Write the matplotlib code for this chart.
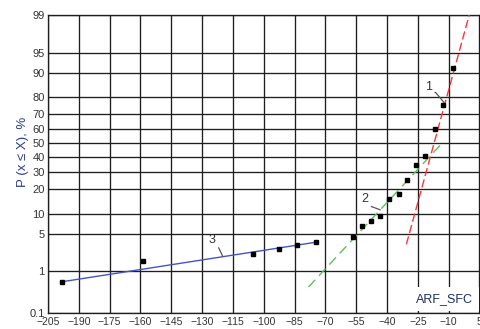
from statistics import NormalDist

import numpy as np
import matplotlib
matplotlib.use("Agg")
import matplotlib.pyplot as plt

plt.rcParams["font.family"] = ["Liberation Sans", "DejaVu Sans"]

# ---------------------------------------------------------------------------
# observations (x, cumulative probability in %) and the three fitted lines
# ---------------------------------------------------------------------------
s3_x = [-198.3, -158.6, -105.3, -92.4, -83.6, -74.6]
s3_p = [0.59, 1.63, 2.24, 2.76, 3.16, 3.6]
s2_x = [-56.8, -52.2, -48.0, -43.3, -38.9, -34.4, -30.3, -25.9, -21.5]
s2_p = [4.4, 6.6, 7.85, 9.25, 15.5, 17.8, 25.3, 34.8, 40.7]
s1_x = [-16.9, -12.8, -8.1]
s1_p = [60.0, 75.3, 91.5]

fit3_x = [-198.3, -74.6]
fit3_p = [0.59, 3.6]
fit2_x = [-78.2, -13.6]
fit2_p = [0.45, 49.3]
fit1_x = [-30.6, 0.0]
fit1_p = [3.3, 99.0]

xticks = [-205, -190, -175, -160, -145, -130, -115, -100, -85, -70, -55, -40, -25, -10, 5]
yticks = [0.1, 1, 5, 10, 20, 30, 40, 50, 60, 70, 80, 90, 95, 99]
ytick_labels = ["0.1", "1", "5", "10", "20", "30", "40", "50", "60", "70", "80", "90", "95", "99"]

GRID = "#1e1e1e"
TXT = "#333333"

# normal-probability (probit) axis
_nd = NormalDist()
_ppf = np.vectorize(_nd.inv_cdf, otypes=[float])
_cdf = np.vectorize(_nd.cdf, otypes=[float])


def probit_fwd(p):
    p = np.clip(np.asarray(p, dtype=float) / 100.0, 1e-9, 1 - 1e-9)
    return _ppf(p)


def probit_inv(z):
    return _cdf(np.asarray(z, dtype=float)) * 100.0


fig = plt.figure(figsize=(4.81, 3.29), dpi=100)
ax = fig.add_axes([48 / 481, 15.7 / 329, 431.5 / 481, 298.3 / 329])
ax.set_yscale("function", functions=(probit_fwd, probit_inv))
ax.set_xlim(-205, 5)
ax.set_ylim(0.1, 99)

ax.set_xticks(xticks)
ax.set_yticks(yticks)
ax.set_yticklabels(ytick_labels)
ax.minorticks_off()
ax.tick_params(length=0, labelsize=8, colors=TXT, pad=2.5)
ax.tick_params(axis="x", labelsize=7.5, pad=3)
ax.grid(True, color=GRID, lw=0.95)
ax.set_axisbelow(True)
for sp in ax.spines.values():
    sp.set_color(GRID)
    sp.set_linewidth(0.95)

# fitted lines
ax.plot(fit3_x, fit3_p, color="#4452cc", lw=1.0, zorder=3)
ax.plot(fit2_x, fit2_p, color="#5cc05c", lw=1.0, dashes=(7, 4), zorder=3)
ax.plot(fit1_x, fit1_p, color="#ff3535", lw=1.0, dashes=(6, 2.5), zorder=3)

# observations
for xs, ps in [(s3_x, s3_p), (s2_x, s2_p), (s1_x, s1_p)]:
    ax.plot(xs, ps, ls="none", marker="s", ms=3.3, color="black", zorder=4)

# line numbers with leaders
leader = dict(arrowstyle="-", color="#555555", lw=0.9, shrinkA=0, shrinkB=0,
              relpos=(0.3, 0.05))
ax.annotate("1", xy=(-12.3, 77.0), xytext=(-11, 11), textcoords="offset points",
            fontsize=9, color=TXT, ha="center", va="center",
            arrowprops=dict(leader, connectionstyle="angle,angleA=0,angleB=130,rad=0"))
ax.annotate("2", xy=(-43.3, 11.3), xytext=(-11, 7.5), textcoords="offset points",
            fontsize=9, color=TXT, ha="center", va="center",
            arrowprops=dict(leader, connectionstyle="angle,angleA=0,angleB=160,rad=0"))
ax.annotate("3", xy=(-119.9, 1.96), xytext=(-7.5, 11.7), textcoords="offset points",
            fontsize=9, color=TXT, ha="center", va="center",
            arrowprops=dict(leader, connectionstyle="angle,angleA=0,angleB=115,rad=0"))

ax.text(0.985, 0.028, "ARF_SFC", transform=ax.transAxes, ha="right", va="bottom",
        fontsize=9, color="#1f2f60", zorder=5,
        bbox=dict(boxstyle="square,pad=0.45", fc="white", ec="none"))

fig.text(23 / 481, 1 - 151.5 / 329, "P (x \u2264 X), %", rotation=90, ha="center", va="center",
         fontsize=9.5, color="#2a3c8c")

fig.savefig("out.png", dpi=100, facecolor="white")
